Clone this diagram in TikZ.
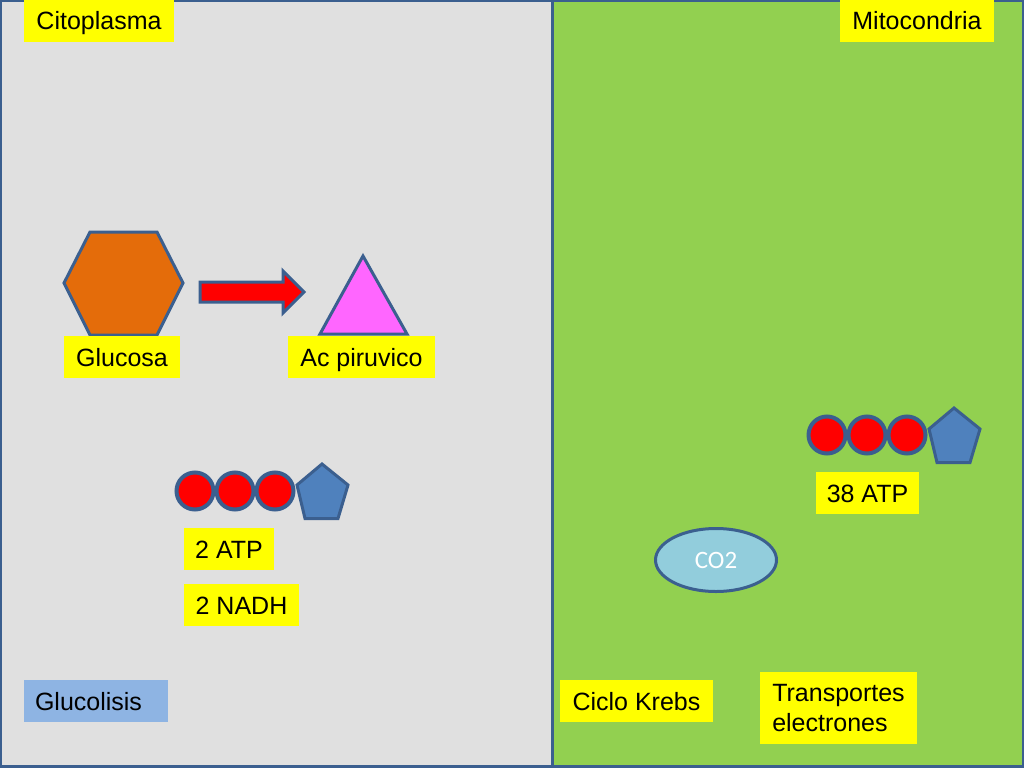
\documentclass[tikz,border=0pt]{standalone}
\usepackage{fontspec}
\setmainfont{Liberation Sans}
\newfontfamily\cofont{Carlito}
\usetikzlibrary{shapes.geometric}
\definecolor{borde}{HTML}{3B5F8F}
\definecolor{gris}{HTML}{E0E0E0}
\definecolor{verde}{HTML}{92D050}
\definecolor{naranja}{HTML}{E46C0A}
\definecolor{rosa}{HTML}{FF66FF}
\definecolor{azul}{HTML}{4F81BD}
\definecolor{celeste}{HTML}{8EB4E3}
\definecolor{agua}{HTML}{92CDDC}
\definecolor{amarillo}{RGB}{255,255,0}
\definecolor{rojo}{RGB}{255,0,0}
\tikzset{every path/.style={line width=3pt,line join=miter},
  caja/.style={fill=amarillo,text=black,inner sep=0pt,font=\fontsize{25}{30}\selectfont},
  etiqueta/.style={caja,minimum height=42pt,text height=18pt,text depth=0pt},
  bola/.style={circle,draw=borde,fill=rojo,line width=4pt,minimum size=37pt,inner sep=0pt}}

\begin{document}
\begin{tikzpicture}[x=1pt,y=-1pt]
     \useasboundingbox (0,0) rectangle (1024,768);
     \fill[gris] (0,0) rectangle (552,768);
     \fill[verde] (552,0) rectangle (1024,768);
     \draw[borde] (0.5,0.5) rectangle (552,766.5);
     \draw[borde] (552,0.5) rectangle (1023.5,766.5);
     % glucosa y piruvico
     \draw[borde,fill=naranja] (64,283) -- (90,232) -- (157,232) -- (183,283) -- (157,335) -- (90,335) -- cycle;
     \draw[borde,fill=rosa] (363,256) -- (407,334) -- (320,334) -- cycle;
     \draw[borde,fill=rojo] (200,282) -- (283,282) -- (283,271) -- (304,292) -- (283,313) -- (283,302) -- (200,302) -- cycle;
     % cadena citoplasma
     \node[bola] (atpa) at (195,491) {};
     \node[bola] (atpb) at (235,491) {};
     \node[bola] (atpc) at (275,491) {};
     \draw[borde,fill=azul] (322,464) -- (348,485) -- (338,518.5) -- (305,518.5) -- (297,485) -- cycle;
     % cadena mitocondria
     \node[bola] (atpd) at (827,435) {};
     \node[bola] (atpe) at (867,435) {};
     \node[bola] (atpf) at (907,435) {};
     \draw[borde,fill=azul] (954,408) -- (980,429) -- (970,462.5) -- (937,462.5) -- (929,429) -- cycle;
     \node[ellipse,draw=borde,fill=agua,text=white,minimum width=121pt,minimum height=63pt,inner sep=0pt,font=\cofont\fontsize{25}{28}\selectfont] (co) at (716,560) {CO2};
     % etiquetas
     \node[etiqueta,minimum width=150pt] (citoplasma) at (99,21) {Citoplasma};
     \node[etiqueta,minimum width=154pt] (mitocondria) at (917,21) {Mitocondria};
     \node[etiqueta,minimum width=116pt] (glucosa) at (122,357) {Glucosa};
     \node[etiqueta,minimum width=147pt] (piruvico) at (361.5,357) {Ac piruvico};
     \node[etiqueta,minimum width=90pt] (atpdos) at (229,549) {2 ATP};
     \node[etiqueta,minimum width=115pt] (nadh) at (241.5,605) {2 NADH};
     \node[etiqueta,minimum width=103pt] (atptreinta) at (867.5,493) {38 ATP};
     \node[etiqueta,fill=celeste,minimum width=144pt,text width=122pt] (glucolisis) at (96,701) {Glucolisis};
     \node[etiqueta,minimum width=153pt] (krebs) at (636.5,701) {Ciclo Krebs};
     \node[caja,minimum width=157pt,minimum height=72pt,align=left] (transportes) at (838.5,708) {Transportes\\electrones};
    \end{tikzpicture}
\end{document}
